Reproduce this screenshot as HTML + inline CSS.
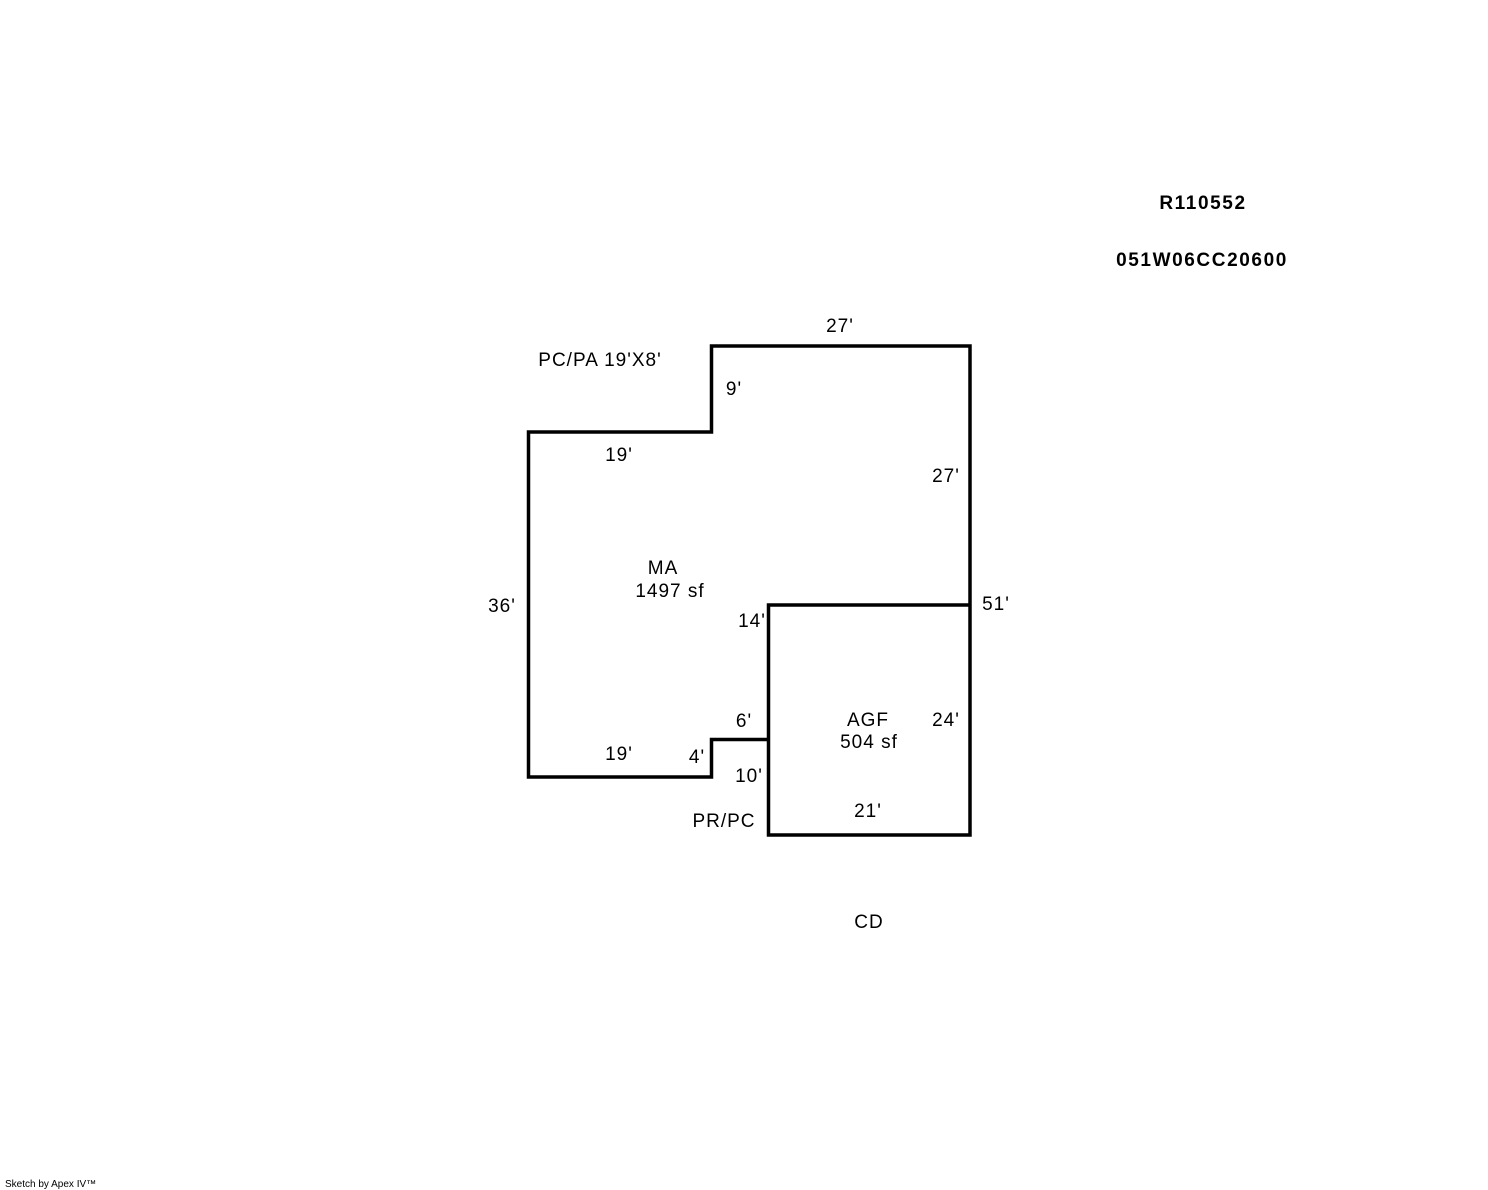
<!DOCTYPE html>
<html><head><style>body{margin:0;background:#fff}svg{display:block}</style></head><body>
<svg width="1488" height="1190" xmlns="http://www.w3.org/2000/svg" font-family="Liberation Sans, Arial, sans-serif" font-size="19" letter-spacing="1">
<g fill="none" stroke="#000" stroke-width="3.5" stroke-linecap="square">
<path d="M711.5 346 H970 V605 M970 605 V835 H768.5 V605 H970 M768.5 739.5 H711.5 V777 H528.5 V432 H711.5 V346"/>
</g>
<g fill="#000" text-anchor="middle">
<text x="1203" y="209" font-weight="bold" letter-spacing="1.6">R110552</text>
<text x="1202" y="266" font-weight="bold" letter-spacing="1.6">051W06CC20600</text>
<text x="840" y="332">27'</text>
<text x="600" y="366">PC/PA 19'X8'</text>
<text x="734" y="395">9'</text>
<text x="619" y="461">19'</text>
<text x="946" y="482">27'</text>
<text x="663" y="574">MA</text>
<text x="670" y="597">1497 sf</text>
<text x="502" y="612">36'</text>
<text x="996" y="610">51'</text>
<text x="752" y="627">14'</text>
<text x="744" y="727">6'</text>
<text x="868" y="726">AGF</text>
<text x="869" y="748">504 sf</text>
<text x="946" y="726">24'</text>
<text x="619" y="760">19'</text>
<text x="697" y="763">4'</text>
<text x="749" y="782">10'</text>
<text x="868" y="817">21'</text>
<text x="724" y="827">PR/PC</text>
<text x="869" y="928">CD</text>
</g>
<text x="5" y="1187" font-size="10" letter-spacing="0" fill="#000">Sketch by Apex IV™</text>
</svg>
</body></html>
